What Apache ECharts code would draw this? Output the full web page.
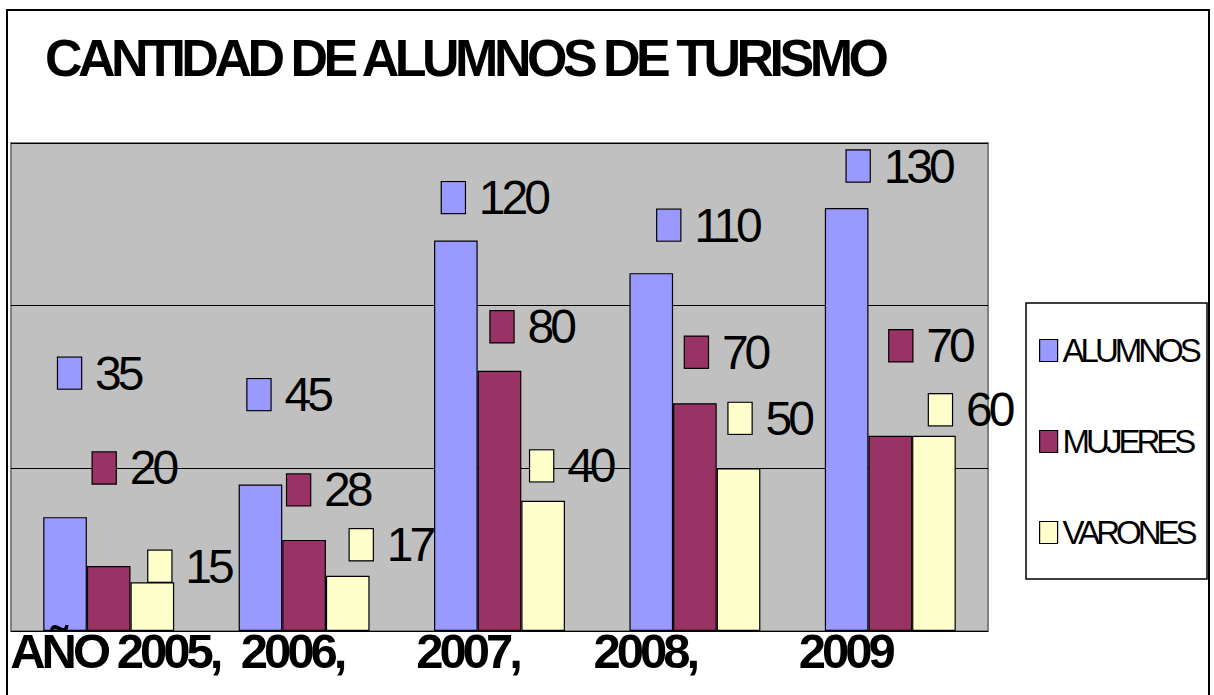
<!DOCTYPE html>
<html>
<head>
<meta charset="utf-8">
<script src="https://cdn.jsdelivr.net/npm/echarts@6/dist/echarts.min.js"></script>
<style>
  html, body { margin: 0; padding: 0; background: #fff; }
  #chartmain { width: 1214px; height: 695px; }
  /* letras apretadas como en el original */
  #chartmain svg text { letter-spacing: -4px; }
  #chartmain svg text[style*="52px"] { letter-spacing: -4.5px; }
</style>
</head>
<body>
<div id="chartmain"></div>
<script>
// datos del grafico
var years = ['AÑO 2005,', '2006,', '2007,', '2008,', '2009'];
var alumnos = [35, 45, 120, 110, 130];
var mujeres = [20, 28, 80, 70, 60];      // altura de la barra dibujada
var mujeresText = [20, 28, 80, 70, 70];  // etiqueta escrita
var varones = [15, 17, 40, 50, 60];
var yTicks = [0, 50, 100, 150];

var FONT = "'Liberation Sans', Arial, sans-serif";

// desplazamiento de cada etiqueta respecto a la barra (px)
var shiftAlumnos = [[-7, -144], [-13, -90], [-14, -43], [6, -48], [0, -42]];
var shiftMujeres = [[-16, -98], [-17, -50], [-9, -44], [-10, -51], [-1, -90]];
var shiftVarones = [[-4, -16], [2, -31], [-13, -35], [-10, -50], [-5, -26]];
// corrimiento horizontal de los rotulos del eje x
var yearShift = [6, -12, -32, -50, -45];

function barSerie(name, color, values, texts, shifts) {
  var data = [];
  for (var i = 0; i < values.length; i++) {
    data.push({
      value: values[i],
      label: { offset: shifts[i] }
    });
  }
  return {
    name: name,
    type: 'bar',
    data: data,
    barGap: '0%',
    barCategoryGap: '33%',
    itemStyle: { color: color, borderColor: '#000', borderWidth: 1.2 },
    label: {
      show: true,
      position: 'top',
      distance: 0,
      align: 'left',
      verticalAlign: 'middle',
      formatter: function (p) {
        return '{b|}{v|' + texts[p.dataIndex] + '}';
      },
      rich: {
        b: { width: 23, height: 31, backgroundColor: color, borderColor: '#000', borderWidth: 1.2 },
        v: { fontSize: 48, fontFamily: FONT, color: '#000', padding: [0, 0, 0, 14], lineHeight: 48 }
      }
    }
  };
}

var xData = [];
for (var i = 0; i < years.length; i++) {
  var s = yearShift[i];
  xData.push({
    value: years[i],
    textStyle: { padding: s > 0 ? [0, 0, 0, 2 * s] : [0, -2 * s, 0, 0] }
  });
}

var option = {
  animation: false,
  backgroundColor: '#fff',
  title: {
    text: 'CANTIDAD DE ALUMNOS DE TURISMO',
    left: 45,
    top: 32,
    padding: 0,
    textStyle: { fontSize: 52, fontWeight: 'bold', fontFamily: FONT, color: '#000' }
  },
  legend: {
    orient: 'vertical',
    left: 1026,
    top: 303,
    padding: [31, 4, 33, 13],
    itemGap: 58,
    itemWidth: 18,
    itemHeight: 22,
    itemTextGap: 11,
    icon: 'rect',
    itemStyle: { borderColor: '#000', borderWidth: 1.2 },
    textStyle: { fontSize: 33, fontFamily: FONT, color: '#000', lineHeight: 32 },
    data: ['ALUMNOS', 'MUJERES', 'VARONES']
  },
  grid: {
    left: 11,
    top: 143,
    width: 977,
    height: 488,
    containLabel: false,
    outerBoundsMode: 'none',
    show: true,
    backgroundColor: '#C0C0C0',
    borderColor: '#808080',
    borderWidth: 2
  },
  xAxis: {
    type: 'category',
    data: xData,
    z: 5,
    axisLine: { show: false },
    axisTick: { show: false },
    axisLabel: {
      interval: 0,
      hideOverlap: false,
      margin: 0,
      verticalAlign: 'top',
      lineHeight: 40,
      fontSize: 49,
      fontWeight: 'bold',
      fontFamily: FONT,
      color: '#000'
    }
  },
  yAxis: {
    type: 'value',
    min: yTicks[0],
    max: yTicks[yTicks.length - 1],
    interval: 50,
    axisLabel: { show: false },
    axisLine: { show: false },
    axisTick: { show: false },
    splitLine: { lineStyle: { color: '#000', width: 1 } }
  },
  graphic: [{
    type: 'rect',
    shape: { x: 7, y: 10, width: 1202, height: 700 },
    style: { fill: 'none', stroke: '#000', lineWidth: 2 },
    silent: true,
    z: -1
  }, {
    // marco de la leyenda
    type: 'rect',
    shape: { x: 1026, y: 303, width: 181, height: 276 },
    style: { fill: '#fff', stroke: '#000', lineWidth: 1.5 },
    silent: true,
    z: 0
  }],
  series: [
    barSerie('ALUMNOS', '#9999FF', alumnos, alumnos, shiftAlumnos),
    barSerie('MUJERES', '#993366', mujeres, mujeresText, shiftMujeres),
    barSerie('VARONES', '#FFFFCC', varones, varones, shiftVarones)
  ]
};

var myChart = echarts.init(document.getElementById('chartmain'), null, { renderer: 'svg' });
myChart.setOption(option);
</script>
</body>
</html>
